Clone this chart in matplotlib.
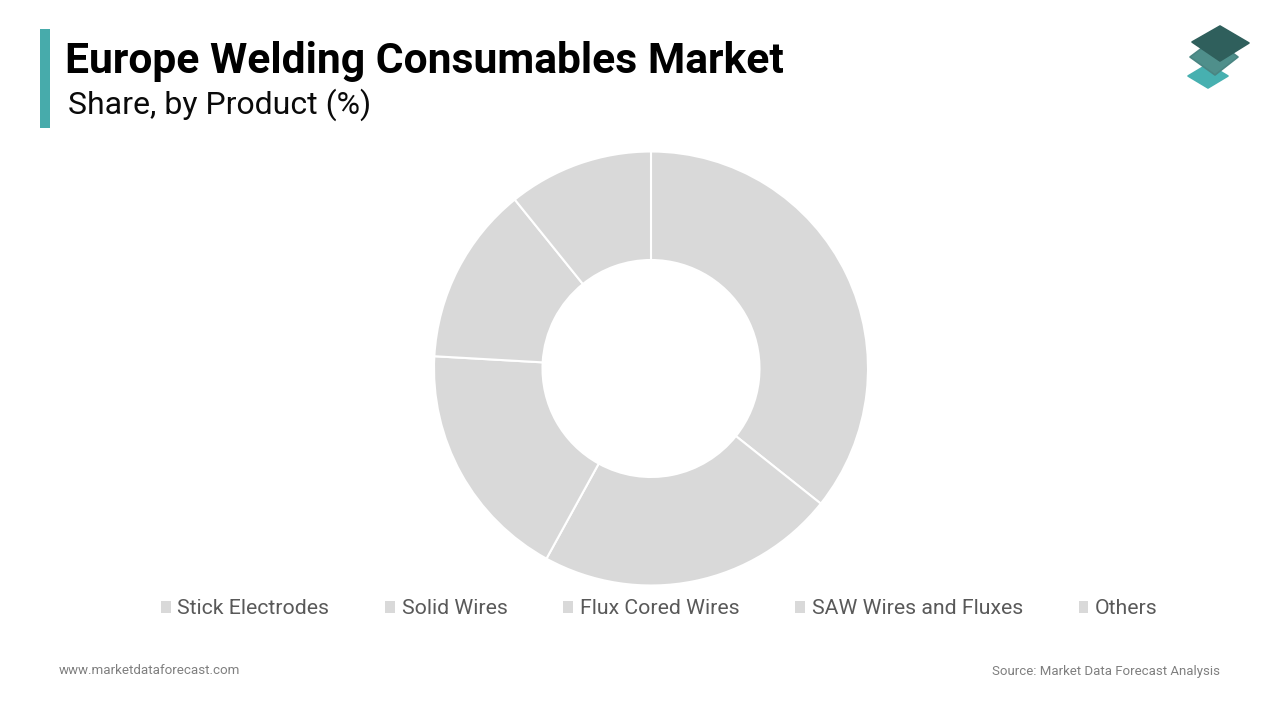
import matplotlib
matplotlib.use("Agg")
import matplotlib.pyplot as plt
from matplotlib.patches import Patch, Polygon, Rectangle

categories = ["Stick Electrodes", "Solid Wires", "Flux Cored Wires", "SAW Wires and Fluxes", "Others"]
shares = [35.7, 22.3, 17.9, 13.3, 10.8]
title = "Europe Welding Consumables Market"
subtitle = "Share, by Product (%)"
footer_left = "www.marketdataforecast.com"
footer_right = "Source: Market Data Forecast Analysis"

W, H = 1280, 720
GREY = "#D9D9D9"
plt.rcParams["font.family"] = ["Roboto", "DejaVu Sans"]

fig = plt.figure(figsize=(W / 100, H / 100), dpi=100, facecolor="white")

# page-level overlay in pixel coordinates
bg = fig.add_axes([0, 0, 1, 1])
bg.set_xlim(0, W)
bg.set_ylim(H, 0)
bg.axis("off")
bg.add_patch(Rectangle((40, 29), 10, 99, color="#47ABAB", lw=0))
bg.text(65, 62, title, fontsize=30.72, fontweight="bold", color="#000000", va="center", ha="left")
bg.text(67.5, 105, subtitle, fontsize=23, color="#0A0A0A", va="center", ha="left")
bg.text(59, 671, footer_left, fontsize=9.6, color="#7F7F7F", va="center", ha="left")
bg.text(1220, 671, footer_right, fontsize=9.58, color="#7F7F7F", va="center", ha="right")

# logo
bg.add_patch(Polygon([(1208, 64), (1228, 76), (1208, 88), (1188, 76)], closed=True,
                     facecolor="#47B0B0", edgecolor="#47B0B0", lw=1.2, joinstyle="round"))
bg.add_patch(Polygon([(1214, 39), (1238, 57), (1215, 75), (1190, 57)], closed=True,
                     facecolor="#4F8F8B", edgecolor="#4A8582", lw=1.2, joinstyle="round"))
bg.add_patch(Polygon([(1220, 26), (1249, 43), (1220, 61), (1192, 42)], closed=True,
                     facecolor="#2F5F5C", edgecolor="#2F5F5C", lw=1.2, joinstyle="round"))

# donut
cx, cy, R = 651, 368.5, 217
ax = fig.add_axes([(cx - R) / W, 1 - (cy + R) / H, 2 * R / W, 2 * R / H])
ax.pie(
    shares,
    startangle=90,
    counterclock=False,
    colors=[GREY] * len(shares),
    radius=1,
    wedgeprops=dict(width=0.5, edgecolor="white", linewidth=1.5),
)
ax.set_xlim(-1, 1)
ax.set_ylim(-1, 1)
ax.set_aspect("equal")

# legend
handles = [Patch(facecolor=GREY, edgecolor="none", label=c) for c in categories]
fig.legend(
    handles=handles,
    loc="center",
    bbox_to_anchor=(659.5 / W, 1 - 609 / H),
    ncol=5,
    frameon=False,
    fontsize=15.3,
    labelcolor="#595959",
    handlelength=0.45,
    handleheight=0.45,
    handletextpad=0.32,
    columnspacing=2.63,
    borderpad=0,
)

fig.savefig("out.png", dpi=100, facecolor="white")
